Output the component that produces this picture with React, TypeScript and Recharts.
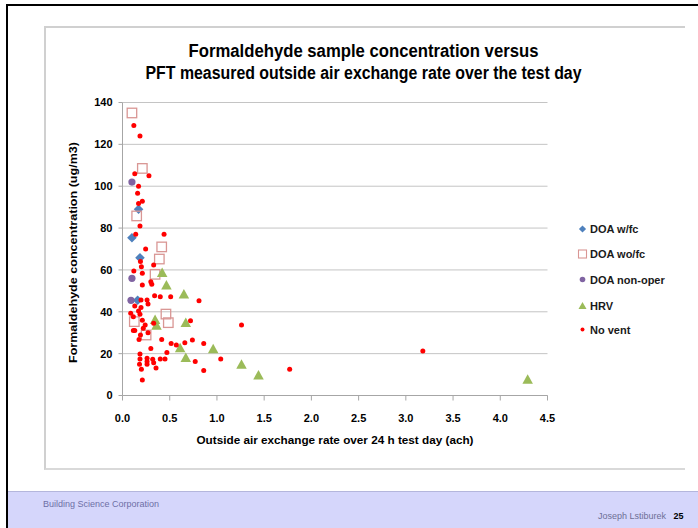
import React from "react";
import { ScatterChart, Scatter, XAxis, YAxis, CartesianGrid } from "recharts";

// ---- data (x = air exchange rate, ach ; y = formaldehyde ug/m3) ----
const doaWfc: [number, number][] = [
  [0.10, 75.4], [0.17, 89], [0.185, 65.8], [0.16, 45.5],
];
const doaWofc: [number, number][] = [
  [0.10, 135], [0.21, 108.5], [0.15, 85.8], [0.415, 71], [0.39, 65.2],
  [0.345, 57.9], [0.46, 38.9], [0.485, 34.8], [0.125, 35.3], [0.25, 28.9],
];
const doaNonOper: [number, number][] = [
  [0.10, 102], [0.10, 56], [0.09, 45.5],
];
const hrv: [number, number][] = [
  [0.42, 58.4], [0.465, 52.5], [0.65, 48.2], [0.345, 36], [0.36, 33.2],
  [0.67, 34.5], [0.61, 22.5], [0.96, 22], [0.67, 17.8], [1.26, 14.6],
  [1.44, 9.5], [4.29, 7.4],
];
const noVent: [number, number][] = [
  [0.12, 129], [0.185, 124], [0.13, 106], [0.28, 105], [0.17, 100],
  [0.16, 96.6], [0.21, 92.8], [0.17, 91.8], [0.185, 81], [0.14, 77],
  [0.44, 77], [0.245, 70], [0.19, 64], [0.20, 61.5], [0.12, 59.5],
  [0.21, 58.4], [0.33, 62.3], [0.30, 54.4], [0.31, 53.1], [0.21, 52.8],
  [0.34, 47.7], [0.40, 47.2], [0.51, 47.2], [0.81, 45.3], [0.26, 45.6],
  [0.27, 43.7], [0.196, 45.6], [0.13, 42.8], [0.196, 42], [0.17, 40.4],
  [0.087, 39.3], [0.115, 37.6], [0.185, 38.8], [0.21, 36], [0.33, 34.5],
  [0.72, 35.7], [0.24, 33.7], [0.13, 31], [0.115, 31], [0.22, 32.1],
  [0.19, 28.9], [0.27, 30], [0.175, 26.8], [0.415, 26.8], [1.26, 33.7],
  [0.515, 24.9], [0.57, 24.1], [0.66, 25.2], [0.74, 26.5], [0.86, 24.9],
  [0.30, 22.5], [0.47, 20.6], [0.185, 19.8], [0.26, 17.8], [0.32, 17.3],
  [0.40, 17.4], [0.45, 17.4], [0.185, 17.4], [0.77, 16.2], [1.04, 17.4],
  [0.26, 16.2], [0.33, 15.7], [0.18, 14.9], [0.26, 14.9], [0.355, 13.1],
  [0.20, 12.5], [0.86, 11.9], [1.77, 12.5], [0.21, 7.4], [3.18, 21.3],
];

const xTicks = [0, 0.5, 1.0, 1.5, 2.0, 2.5, 3.0, 3.5, 4.0, 4.5];
const yTicks = [0, 20, 40, 60, 80, 100, 120, 140];

const seriesNames = ["DOA w/fc", "DOA wo/fc", "DOA non-oper", "HRV", "No vent"];
const seriesColors = ["#4f81bd", "#d99694", "#8064a2", "#9bbb59", "#ff0000"];

const titleLines = [
  "Formaldehyde sample concentration versus",
  "PFT measured outside air exchange rate over the test day",
];
const xTitle = "Outside air exchange rate over 24 h test day (ach)";
const yTitle = "Formaldehyde concentration (ug/m3)";

const toPts = (a: [number, number][]) => a.map(([x, y]) => ({ x, y }));

const FONT = "'Liberation Sans', Arial, sans-serif";

const DiamondShape = (p: any) => {
  const { cx, cy } = p;
  const r = 4.8;
  return (
    <path
      d={`M${cx},${cy - r}L${cx + r},${cy}L${cx},${cy + r}L${cx - r},${cy}Z`}
      fill={seriesColors[0]}
    />
  );
};
const SquareShape = (p: any) => {
  const { cx, cy } = p;
  const s = 9.5;
  return (
    <rect x={cx - s / 2} y={cy - s / 2} width={s} height={s} fill="none"
      stroke={seriesColors[1]} strokeWidth={1.3} />
  );
};
const CircleShape = (p: any) => (
  <circle cx={p.cx} cy={p.cy} r={3.6} fill={seriesColors[2]} />
);
const TriangleShape = (p: any) => {
  const { cx, cy } = p;
  const w = 10.5, h = 9.5;
  return (
    <path
      d={`M${cx},${cy - h * 0.6}L${cx + w / 2},${cy + h * 0.4}L${cx - w / 2},${cy + h * 0.4}Z`}
      fill={seriesColors[3]}
    />
  );
};
const DotShape = (p: any) => (
  <circle cx={p.cx} cy={p.cy} r={2.5} fill={seriesColors[4]} />
);

const legendY = [229, 254, 279.5, 306, 329.5];

const LegendMarker = ({ i, x, y }: { i: number; x: number; y: number }) => {
  if (i === 0) return <path d={`M${x},${y - 3.6}L${x + 3.6},${y}L${x},${y + 3.6}L${x - 3.6},${y}Z`} fill={seriesColors[0]} />;
  if (i === 1) return <rect x={x - 4} y={y - 4} width={8} height={8} fill="none" stroke={seriesColors[1]} strokeWidth={1.1} />;
  if (i === 2) return <circle cx={x} cy={y} r={2.8} fill={seriesColors[2]} />;
  if (i === 3) return <path d={`M${x},${y - 4}L${x + 4},${y + 3}L${x - 4},${y + 3}Z`} fill={seriesColors[3]} />;
  return <circle cx={x} cy={y} r={2} fill={seriesColors[4]} />;
};

export default function App() {
  return (
    <div style={{ position: "absolute", left: 0, top: 0, width: 698, height: 528, background: "#fff", overflow: "hidden" }}>
      {/* slide frame */}
      <div style={{ position: "absolute", left: 6, top: 4, width: 692, height: 2, background: "#000" }} />
      <div style={{ position: "absolute", left: 6, top: 4, width: 2, height: 524, background: "#000" }} />
      {/* chart box */}
      <div style={{ position: "absolute", left: 44, top: 26, width: 641, height: 444, borderLeft: "2px solid #d0d0d0", borderTop: "2px solid #d0d0d0", borderBottom: "2px solid #d9d9d9", boxSizing: "border-box" }} />
      {/* footer */}
      <div style={{ position: "absolute", left: 8, top: 491, width: 690, height: 37, background: "#d5d6fb", borderTop: "1px solid #b4b6dc", boxSizing: "border-box" }} />
      <div style={{ position: "absolute", left: 43, top: 499, fontFamily: FONT, fontSize: 9, color: "#6d6fa6", whiteSpace: "nowrap" }}>
        Building Science Corporation
      </div>
      <div style={{ position: "absolute", left: 598, top: 511, fontFamily: FONT, fontSize: 9, color: "#6d6f96", whiteSpace: "nowrap" }}>
        Joseph Lstiburek&nbsp;&nbsp; <span style={{ color: "#000", fontWeight: "bold" }}>25</span>
      </div>

      <div style={{ position: "absolute", left: 0, top: 0 }}>
        <ScatterChart width={698} height={528} margin={{ top: 102.5, right: 150.5, bottom: 102.5, left: 62.5 }}>
          <CartesianGrid horizontal vertical={false} stroke="#c4c4c4" strokeWidth={1} />
          <XAxis
            type="number"
            dataKey="x"
            domain={[0, 4.5]}
            ticks={xTicks}
            interval={0}
            height={30}
            tickFormatter={(v: number) => v.toFixed(1)}
            axisLine={{ stroke: "#a6a6a6" }}
            tickLine={{ stroke: "#a6a6a6" }}
            tickSize={5}
            tickMargin={14}
            tick={{ fontFamily: FONT, fontSize: 11, fontWeight: "bold", fill: "#000" }}
          />
          <YAxis
            type="number"
            dataKey="y"
            domain={[0, 140]}
            ticks={yTicks}
            interval={0}
            width={60}
            axisLine={{ stroke: "#a6a6a6" }}
            tickLine={{ stroke: "#a6a6a6" }}
            tickSize={4}
            tickMargin={6}
            tick={{ fontFamily: FONT, fontSize: 11, fontWeight: "bold", fill: "#000" }}
          />
          <Scatter name={seriesNames[0]} data={toPts(doaWfc)} shape={DiamondShape} isAnimationActive={false} />
          <Scatter name={seriesNames[1]} data={toPts(doaWofc)} shape={SquareShape} isAnimationActive={false} />
          <Scatter name={seriesNames[2]} data={toPts(doaNonOper)} shape={CircleShape} isAnimationActive={false} />
          <Scatter name={seriesNames[3]} data={toPts(hrv)} shape={TriangleShape} isAnimationActive={false} />
          <Scatter name={seriesNames[4]} data={toPts(noVent)} shape={DotShape} isAnimationActive={false} />
        </ScatterChart>
      </div>

      {/* titles and legend */}
      <svg width={698} height={528} style={{ position: "absolute", left: 0, top: 0, pointerEvents: "none" }}>
        <text x={363.5} y={56.5} textAnchor="middle" fontFamily={FONT} fontWeight="bold" fontSize={17.5}
          textLength={350} lengthAdjust="spacingAndGlyphs" fill="#000">{titleLines[0]}</text>
        <text x={363.5} y={79} textAnchor="middle" fontFamily={FONT} fontWeight="bold" fontSize={17.5}
          textLength={436} lengthAdjust="spacingAndGlyphs" fill="#000">{titleLines[1]}</text>
        <text x={335} y={440} textAnchor="middle" dominantBaseline="central" fontFamily={FONT} fontWeight="bold"
          fontSize={10.5} textLength={277} lengthAdjust="spacingAndGlyphs" fill="#000">{xTitle}</text>
        <text x={73} y={252.5} textAnchor="middle" dominantBaseline="central" fontFamily={FONT} fontWeight="bold"
          fontSize={10} textLength={221} lengthAdjust="spacingAndGlyphs" fill="#000"
          transform="rotate(-90 73 252.5)">{yTitle}</text>
        {seriesNames.map((n, i) => (
          <g key={n}>
            <LegendMarker i={i} x={582.5} y={legendY[i]} />
            <text x={590} y={legendY[i]} dominantBaseline="central" fontFamily={FONT} fontWeight="bold"
              fontSize={11} fill="#1a1a1a">{n}</text>
          </g>
        ))}
      </svg>
    </div>
  );
}
